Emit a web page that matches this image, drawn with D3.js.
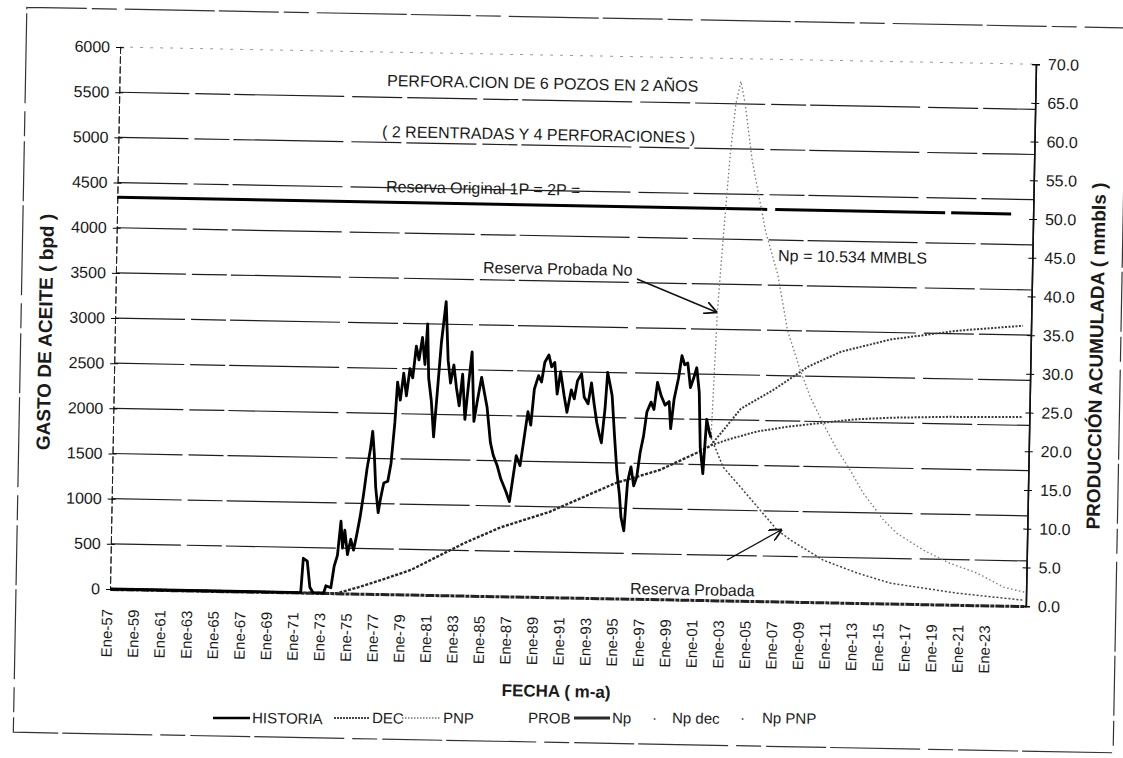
<!DOCTYPE html>
<html>
<head>
<meta charset="utf-8">
<script src="https://cdn.jsdelivr.net/npm/d3@7"></script>
<style>
body { margin: 0; background: #fff; }
svg text { font-family: "Liberation Sans", Arial, sans-serif; fill: #1a1a1a; }
</style>
</head>
<body>
<svg id="chart" width="1123" height="758"></svg>
<script>
// ---- data ----
var yearTicks = [1957,1959,1961,1963,1965,1967,1969,1971,1973,1975,1977,1979,1981,1983,1985,1987,1989,
                 1991,1993,1995,1997,1999,2001,2003,2005,2007,2009,2011,2013,2015,2017,2019,2021,2023];
var tickLabels = ["Ene-57","Ene-59","Ene-61","Ene-63","Ene-65","Ene-67","Ene-69","Ene-71","Ene-73","Ene-75",
                  "Ene-77","Ene-79","Ene-81","Ene-83","Ene-85","Ene-87","Ene-89","Ene-91","Ene-93","Ene-95",
                  "Ene-97","Ene-99","Ene-01","Ene-03","Ene-05","Ene-07","Ene-09","Ene-11","Ene-13","Ene-15",
                  "Ene-17","Ene-19","Ene-21","Ene-23"];
var leftTicks = [0,500,1000,1500,2000,2500,3000,3500,4000,4500,5000,5500,6000];
var rightTicks = [0,5,10,15,20,25,30,35,40,45,50,55,60,65,70];

// HISTORIA (bpd)
var histYear = [1957.23,1971.57,1971.72,1972.02,1972.25,1972.5,1973.3,1973.45,1973.83,1974.05,
  1974.28,1974.5,1974.65,1974.8,1975.03,1975.26,1975.48,1975.7,1975.93,1976.16,
  1976.38,1976.61,1976.76,1976.91,1977.06,1977.28,1977.43,1977.66,1977.96,1978.18,
  1978.41,1978.56,1978.79,1979.01,1979.24,1979.47,1979.69,1979.92,1980.14,1980.37,
  1980.59,1980.74,1980.89,1981.12,1981.34,1981.58,1981.8,1982.1,1982.33,1982.54,
  1982.77,1982.99,1983.22,1983.44,1983.67,1983.9,1984.12,1984.35,1984.57,1984.87,
  1985.1,1985.32,1985.62,1985.85,1986.15,1986.45,1986.83,1987.13,1987.35,1987.58,
  1987.88,1988.1,1988.4,1988.63,1988.85,1989.15,1989.38,1989.6,1989.9,1990.12,
  1990.35,1990.57,1990.8,1991.1,1991.33,1991.63,1991.86,1992.08,1992.38,1992.61,
  1992.91,1993.14,1993.36,1993.59,1993.81,1993.96,1994.19,1994.34,1994.56,1994.71,
  1994.94,1995.17,1995.39,1995.54,1995.77,1995.99,1996.22,1996.45,1996.67,1996.89,
  1997.12,1997.34,1997.64,1997.87,1998.1,1998.4,1998.7,1999.0,1999.15,1999.37,
  1999.67,1999.9,2000.12,2000.35,2000.58,2000.8,2001.03,2001.25,2001.4,2001.63,
  2001.85,2002.08,2002.2];
var histBpd = [0,0,380,350,60,0,0,80,60,300,
  420,800,500,700,430,600,480,650,850,1100,
  1380,1600,1800,1550,1180,900,1050,1230,1250,1450,
  1900,2350,2150,2450,2200,2500,2400,2750,2600,2850,
  2550,3000,2400,2150,1750,2300,2800,3250,2600,2350,
  2550,2300,2100,2450,1950,2350,2700,1930,2150,2420,
  2250,2090,1700,1560,1450,1300,1170,1050,1300,1560,
  1450,1700,2050,1900,2300,2450,2380,2600,2680,2550,
  2600,2250,2500,2230,2050,2300,2200,2400,2480,2220,
  2150,2380,2150,1940,1800,1720,2100,2500,2350,2240,
  1800,1400,1150,900,750,1300,1460,1250,1350,1620,
  1800,2070,2180,2100,2400,2250,2150,2190,1890,2220,
  2450,2700,2600,2620,2350,2450,2570,2300,1690,1400,
  2000,1850,1800];

// DEC forecast (bpd)
var decYear = [2002.2,2003.15,2004.5,2005.8,2007.3,2008.35,2010.8,2013.4,2015.9,2020.9,2025.9];
var decBpd  = [1800,1476,1255,1040,790,680,467,330,226,129,65];

// PNP forecast (bpd)
var pnpYear = [2002.2,2002.5,2002.85,2003.25,2003.6,2003.95,2004.3,2004.9,2006.0,2007.0,2007.8,2008.8,
               2009.6,2010.6,2011.7,2012.7,2013.7,2015.3,2016.3,2018.3,2020.3,2022.4,2024.4,2026.1];
var pnpBpd  = [1800,3200,4050,4950,5500,5750,5500,4880,4100,3610,3000,2570,
               2270,1980,1690,1470,1220,920,780,600,460,355,205,150];

// cumulative production (mmbls)
var npYear = [1957.23,1974.3,1975.86,1977.58,1979.84,1983.82,1986.5,1990.13,1995.09,1998.4,2001.63,2002.2];
var npVal  = [0,0,0.8,1.8,3.2,6.8,8.9,11.0,14.9,16.7,19.4,20.0];
var npDecYear = [2002.2,2003.5,2005.65,2008.0,2010.65,2013.0,2015.65,2020.0,2025.6];
var npDecVal  = [20.0,20.8,21.9,22.6,23.2,23.7,24.0,24.25,24.4];
var npPnpYear = [2002.2,2004.4,2006.9,2009.4,2011.85,2015.55,2020.6,2025.5];
var npPnpVal  = [20.0,24.8,27.4,30.4,32.4,34.1,35.4,36.2];

var reservaOriginal = 50.6;      // mmbls
var reservaEnd = 2025.1;

// ---- layout ----
var svg = d3.select("#chart");
var pL = 110, pR = 1026, pT = 47, pB = 589;
var tilt = 1.07;   // the scan is slightly rotated

var scX = d3.scaleLinear().domain([1957.23, 2026.1]).range([pL, pR]);
var scY = d3.scaleLinear().domain([0, 6000]).range([pB, pT]);
var scY2 = d3.scaleLinear().domain([0, 70]).range([pB, pT]);

// picture coords -> unrotated frame
function unrot(x, y) {
    var a = -tilt * Math.PI / 180, dx = x - pL, dy = y - pB;
    return [pL + dx * Math.cos(a) - dy * Math.sin(a), pB + dx * Math.sin(a) + dy * Math.cos(a)];
}

var g = svg.append("g").attr("transform", "rotate(" + tilt + "," + pL + "," + pB + ")");

// outer frame of the chart area
g.append("rect").attr("x", 16).attr("y", 9).attr("width", 1100).attr("height", 725)
    .attr("fill", "none").attr("stroke", "#333").attr("stroke-width", 1.2)
    .attr("stroke-dasharray", "60,5,25,8,90,4");

// gridlines
g.append("g").selectAll("line")
    .data(leftTicks.filter(d => d > 0)).enter().append("line")
    .attr("x1", pL).attr("x2", pR)
    .attr("y1", d => scY(d)).attr("y2", d => scY(d))
    .attr("stroke", d => d == 6000 ? "#999" : "#1e1e1e")
    .attr("stroke-width", d => d == 6000 ? 1 : 1.2)
    .attr("stroke-dasharray", d => d == 6000 ? "3,7" : "70,6,35,4,110,8,50,5");

// left axis
var yAxis = g.append("g").attr("transform", "translate(" + pL + ",0)")
    .call(d3.axisLeft(scY).tickValues(leftTicks).tickSize(4).tickPadding(6).tickFormat(d3.format("d")));
yAxis.append("g").call(d3.axisRight(scY).tickValues(leftTicks).tickSize(4).tickFormat(""));
yAxis.selectAll(".domain").attr("stroke", "#222").attr("stroke-dasharray", "7,3");
yAxis.selectAll("text").attr("font-size", 16).attr("font-family", "Liberation Sans, Arial, sans-serif").attr("fill", "#222");

// right axis
var y2Axis = g.append("g").attr("transform", "translate(" + pR + ",0)")
    .call(d3.axisRight(scY2).tickValues(rightTicks).tickSize(4).tickPadding(8).tickFormat(d3.format(".1f")));
y2Axis.append("g").call(d3.axisLeft(scY2).tickValues(rightTicks).tickSize(4).tickFormat(""));
y2Axis.selectAll(".domain").attr("stroke", "#111").attr("stroke-width", 1.5);
y2Axis.selectAll("text").attr("font-size", 16).attr("font-family", "Liberation Sans, Arial, sans-serif").attr("fill", "#222");

// bottom axis
var xAxis = g.append("g").attr("transform", "translate(0," + pB + ")")
    .call(d3.axisBottom(scX).tickValues(yearTicks).tickSize(0).tickFormat((d, i) => tickLabels[i]));
xAxis.selectAll(".domain").attr("stroke", "#222").attr("stroke-width", 3).attr("stroke-dasharray", "9,1,4,1");
xAxis.selectAll("text")
    .attr("transform", "rotate(-90)")
    .attr("x", -20).attr("y", 0).attr("dy", "0.35em")
    .attr("text-anchor", "end")
    .attr("font-size", 15).attr("font-family", "Liberation Sans, Arial, sans-serif").attr("fill", "#222");

// axis titles
var p = unrot(45, 332);
g.append("text").attr("transform", "translate(" + p[0] + "," + p[1] + ") rotate(-90)")
    .attr("text-anchor", "middle").attr("dy", "0.35em")
    .attr("font-size", 19).attr("font-weight", "bold").text("GASTO DE ACEITE ( bpd )");
p = unrot(1096, 356);
g.append("text").attr("transform", "translate(" + p[0] + "," + p[1] + ") rotate(-90)")
    .attr("text-anchor", "middle").attr("dy", "0.35em")
    .attr("font-size", 19).attr("font-weight", "bold").text("PRODUCCIÓN ACUMULADA ( mmbls )");
p = unrot(556, 697);
g.append("text").attr("x", p[0]).attr("y", p[1]).attr("text-anchor", "middle")
    .attr("font-size", 17).attr("font-weight", "bold").text("FECHA ( m-a)");

// ---- series ----
var lineL = d3.line().x(d => scX(d[0])).y(d => scY(d[1]));
var lineR = d3.line().x(d => scX(d[0])).y(d => scY2(d[1]));
function zip(a, b) { return a.map((v, i) => [v, b[i]]); }

// original reserve
g.append("path").attr("fill", "none").attr("stroke", "#000").attr("stroke-width", 3)
    .attr("stroke-dasharray", "650,8,170,6,60,10")
    .attr("d", lineR([[scX.domain()[0], reservaOriginal], [reservaEnd, reservaOriginal]]));

// forecasts, rates
g.append("path").attr("fill", "none").attr("stroke", "#777").attr("stroke-width", 1.3)
    .attr("stroke-dasharray", "1.5,2.5").attr("d", lineL(zip(pnpYear, pnpBpd)));
g.append("path").attr("fill", "none").attr("stroke", "#444").attr("stroke-width", 1.5)
    .attr("stroke-dasharray", "2,2").attr("d", lineL(zip(decYear, decBpd)));

// cumulative
g.append("path").attr("fill", "none").attr("stroke", "#3a3a3a").attr("stroke-width", 2)
    .attr("stroke-dasharray", "2,1.5").attr("d", lineR(zip(npPnpYear, npPnpVal)));
g.append("path").attr("fill", "none").attr("stroke", "#3a3a3a").attr("stroke-width", 2)
    .attr("stroke-dasharray", "2,1.5").attr("d", lineR(zip(npDecYear, npDecVal)));
g.append("path").attr("fill", "none").attr("stroke", "#2a2a2a").attr("stroke-width", 2.4)
    .attr("stroke-dasharray", "3,1.5").attr("d", lineR(zip(npYear, npVal)));

// history
g.append("path").attr("fill", "none").attr("stroke", "#000").attr("stroke-width", 2.8)
    .attr("stroke-linejoin", "round").attr("d", lineL(zip(histYear, histBpd)));

// ---- annotations ----
function note(x, y, txt, size) {
    var q = unrot(x, y);
    g.append("text").attr("x", q[0]).attr("y", q[1]).attr("font-size", size || 16).text(txt);
}
note(387, 86, "PERFORA.CION DE 6 POZOS EN 2 AÑOS");
note(382, 137, "( 2 REENTRADAS Y 4 PERFORACIONES )");
note(386, 192, "Reserva Original  1P = 2P =");
note(483, 273, "Reserva Probada  No");
note(778, 261, "Np = 10.534 MMBLS");
note(630, 594, "Reserva Probada");

svg.append("defs").append("marker").attr("id", "arr").attr("viewBox", "0 0 10 10")
    .attr("refX", 9).attr("refY", 5).attr("markerWidth", 9).attr("markerHeight", 9)
    .attr("orient", "auto").append("path").attr("d", "M0,0 L10,5 L0,10").attr("fill", "none")
    .attr("stroke", "#111").attr("stroke-width", 1.4);
function arrow(x1, y1, x2, y2) {
    var a = unrot(x1, y1), b = unrot(x2, y2);
    g.append("line").attr("x1", a[0]).attr("y1", a[1]).attr("x2", b[0]).attr("y2", b[1])
        .attr("stroke", "#111").attr("stroke-width", 1.4).attr("marker-end", "url(#arr)");
}
arrow(637, 279, 716, 312);
arrow(727, 560, 781, 530);

// ---- legend ----
var ly = 718;
function legLine(x1, x2, stroke, width, dash) {
    var a = unrot(x1, ly), b = unrot(x2, ly);
    g.append("line").attr("x1", a[0]).attr("y1", a[1]).attr("x2", b[0]).attr("y2", b[1])
        .attr("stroke", stroke).attr("stroke-width", width).attr("stroke-dasharray", dash || null);
}
function legText(x, txt) { note(x, ly + 5, txt, 15); }
legLine(213, 250, "#000", 2.6);            legText(252, "HISTORIA");
legLine(334, 370, "#444", 2, "2,1");       legText(372, "DEC");
legLine(402, 441, "#777", 1.5, "1.5,1.5"); legText(443, "PNP");
legText(528, "PROB");
legLine(574, 610, "#2a2a2a", 3);           legText(612, "Np");
legText(652, "·");                         legText(672, "Np dec");
legText(740, "·");                         legText(762, "Np PNP");
</script>
</body>
</html>
